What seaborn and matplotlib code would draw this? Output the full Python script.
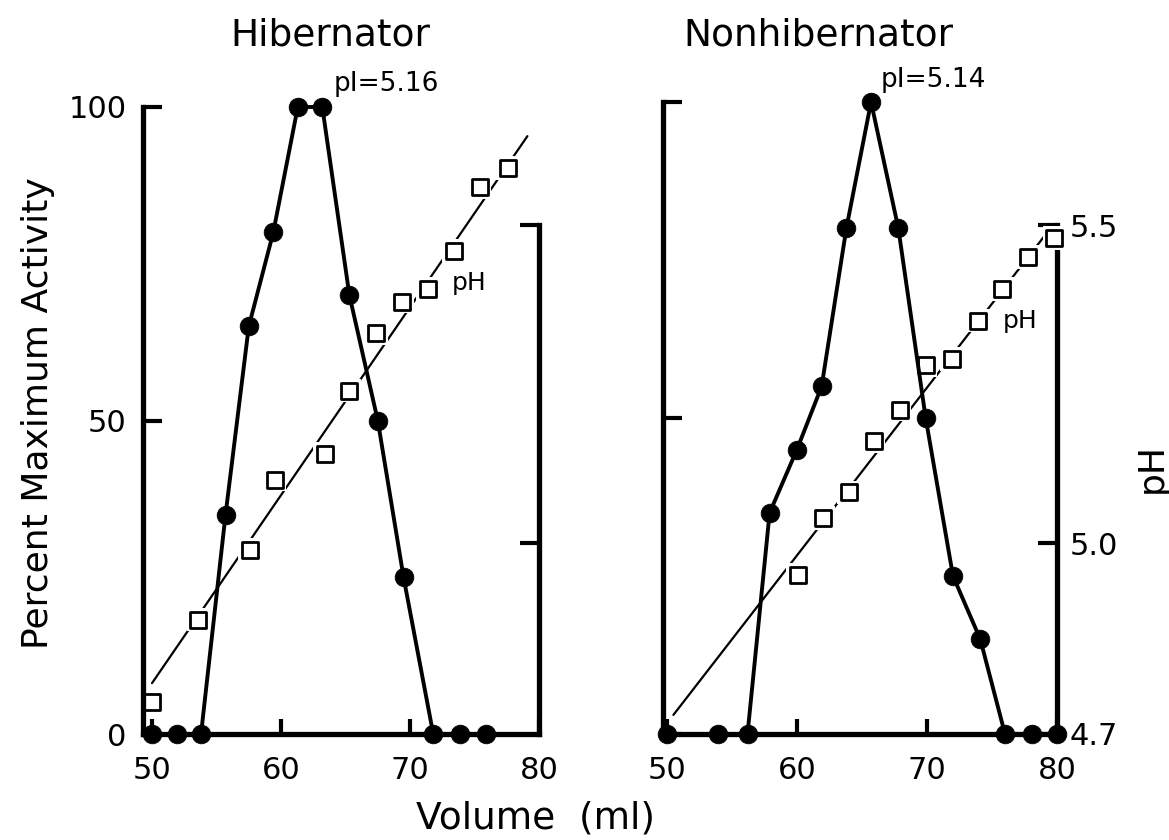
import numpy as np
import pandas as pd
import matplotlib
matplotlib.use("Agg")
import matplotlib.pyplot as plt
import seaborn as sns

# ---------------- data ----------------
# Hibernator
hib_act_vol = [50, 51.9, 53.8, 55.7, 57.5, 59.4, 61.3, 63.2, 65.3, 67.5, 69.5, 71.8, 73.9, 75.9]
hib_act = [0, 0, 0, 35, 65, 80, 100, 100, 70, 50, 25, 0, 0, 0]
hib_ph_vol = [50, 53.6, 57.6, 59.5, 63.4, 65.3, 67.4, 69.4, 71.4, 73.4, 75.4, 77.6]
hib_ph = [4.75, 4.88, 4.99, 5.10, 5.14, 5.24, 5.33, 5.38, 5.40, 5.46, 5.56, 5.59]
hib_fit_vol = [50.0, 79.1]
hib_fit_ph = [4.78, 5.64]

# Nonhibernator
non_act_vol = [50, 53.9, 56.2, 57.9, 60.0, 61.9, 63.8, 65.7, 67.8, 69.9, 72.0, 74.1, 76.0, 78.1, 80.0]
non_act = [0, 0, 0, 35, 45, 55, 80, 100, 80, 50, 25, 15, 0, 0, 0]
non_ph_vol = [60.1, 62.0, 64.0, 65.9, 67.9, 69.9, 71.9, 73.9, 75.8, 77.8, 79.8]
non_ph = [4.95, 5.04, 5.08, 5.16, 5.21, 5.28, 5.29, 5.35, 5.40, 5.45, 5.48]
non_fit_vol = [50.5, 79.3]
non_fit_ph = [4.73, 5.49]

x_ticks = [50, 60, 70, 80]
act_ticks = [0, 50, 100]
ph_ticks = [4.7, 5.0, 5.5]
ph_tick_labels = ["4.7", "5.0", "5.5"]

# ---------------- style ----------------
sns.set_theme(style="white")
plt.rcParams['font.family'] = ['DejaVu Sans']
plt.rcParams.update({'text.color': 'black', 'axes.labelcolor': 'black',
                     'xtick.color': 'black', 'ytick.color': 'black',
                     'axes.edgecolor': 'black'})

W, H = 1169, 840
fig = plt.figure(figsize=(W / 100, H / 100), dpi=100)


def px_rect(x0, x1, ytop, ybot):
    return [x0 / W, 1 - ybot / H, (x1 - x0) / W, (ybot - ytop) / H]


SPINE_W = 3.8
TICK_W = 3.0


def panel(ax, act_vol, act, ph_vol, ph, fit_vol, fit_ph, xmin, ph_top, left_labels, right_labels):
    ax2 = ax.twinx()
    ax.set_zorder(2)
    ax2.set_zorder(1)
    ax.patch.set_visible(False)

    # pH trend line with gaps around the squares
    sns.lineplot(x=fit_vol, y=fit_ph, ax=ax2, color='black', linewidth=1.6)
    sns.scatterplot(x=ph_vol, y=ph, ax=ax2, marker='s', s=17 ** 2, color='white',
                    edgecolor='none', zorder=3, clip_on=False)
    sns.scatterplot(x=ph_vol, y=ph, ax=ax2, marker='s', s=11 ** 2, facecolor='white',
                    edgecolor='black', linewidth=2.0, zorder=4, clip_on=False)

    # activity profile
    sns.lineplot(x=act_vol, y=act, ax=ax, color='black', linewidth=2.8, marker='o',
                 markersize=13.5, markeredgecolor='black', markeredgewidth=0.5,
                 clip_on=False, zorder=5)

    ax.set_xlim(xmin, 80)
    ax.set_ylim(0, 100)
    ax2.set_ylim(4.7, ph_top)

    for s in ['top', 'right']:
        ax.spines[s].set_visible(False)
    for s in ['top', 'left', 'bottom']:
        ax2.spines[s].set_visible(False)
    ax.spines['left'].set_linewidth(SPINE_W)
    ax.spines['bottom'].set_linewidth(SPINE_W)
    ax2.spines['right'].set_linewidth(SPINE_W)
    ax.spines['left'].set_bounds(0, 100)
    ax2.spines['right'].set_bounds(4.7, 5.5)

    ax.set_xticks(x_ticks)
    ax.set_xticklabels([str(v) for v in x_ticks])
    ax.tick_params(axis='x', bottom=True, direction='in', length=11, width=TICK_W,
                   pad=16, labelsize=22)
    ax.set_yticks(act_ticks)
    if left_labels:
        ax.set_yticklabels([str(v) for v in act_ticks])
    ax.tick_params(axis='y', left=True, direction='in', length=14, width=TICK_W,
                   pad=12, labelsize=22, labelleft=left_labels)

    if right_labels:
        ax2.set_yticks(ph_ticks)
        ax2.set_yticklabels(ph_tick_labels)
    else:
        ax2.set_yticks(ph_ticks[1:])
    ax2.tick_params(axis='y', right=True, direction='in', length=14, width=TICK_W,
                    pad=9, labelsize=22, labelright=right_labels)
    ax.set_xlabel('')
    ax.set_ylabel('')
    ax2.set_ylabel('')
    return ax2


axL = fig.add_axes(px_rect(143, 539, 107, 734))
axR = fig.add_axes(px_rect(663, 1057, 102, 734))

panel(axL, hib_act_vol, hib_act, hib_ph_vol, hib_ph, hib_fit_vol, hib_fit_ph,
      49.3, 4.7 + (734 - 107) / 636, True, False)
panel(axR, non_act_vol, non_act, non_ph_vol, non_ph, non_fit_vol, non_fit_ph,
      49.7, 4.7 + (734 - 102) / 636, False, True)

# ---------------- texts ----------------
fig.text(330 / W, 1 - 35 / H, "Hibernator", ha='center', va='center', fontsize=27)
fig.text(818 / W, 1 - 35 / H, "Nonhibernator", ha='center', va='center', fontsize=27)
fig.text(38 / W, 1 - 413 / H, "Percent Maximum Activity", rotation=90,
         ha='center', va='center', fontsize=26)
fig.text(535 / W, 1 - 818 / H, "Volume  (ml)", ha='center', va='center', fontsize=27)
fig.text(1152 / W, 1 - 468 / H, "pH", rotation=90, ha='center', va='center', fontsize=26)
fig.text(334 / W, 1 - 84 / H, "pI=5.16", ha='left', va='center', fontsize=19)
fig.text(881 / W, 1 - 80 / H, "pI=5.14", ha='left', va='center', fontsize=19)
fig.text(452 / W, 1 - 283 / H, "pH", ha='left', va='center', fontsize=18)
fig.text(1003 / W, 1 - 321 / H, "pH", ha='left', va='center', fontsize=18)

fig.savefig("out.png", dpi=100, facecolor='white')
